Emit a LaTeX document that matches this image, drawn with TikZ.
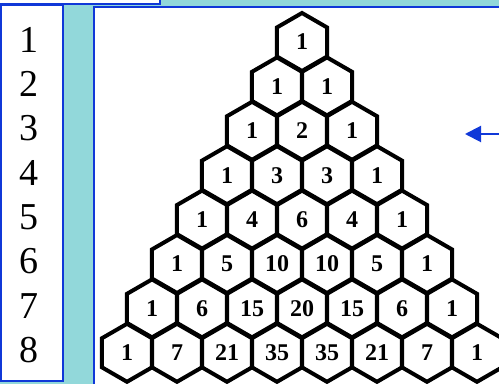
\documentclass[tikz,border=0pt]{standalone}
\usepackage{fontspec}
\setmainfont{Liberation Serif}
\usetikzlibrary{arrows.meta,shapes.geometric}
\definecolor{sidebar}{RGB}{146,216,218}
\definecolor{frameblue}{RGB}{16,56,216}

\begin{document}
\begin{tikzpicture}[
  x=0.5pt, y=-0.5pt,
  panel/.style={draw=frameblue, fill=white, line width=1.2pt},
  hexcell/.style={regular polygon, regular polygon sides=6, shape border rotate=30, draw, line width=2pt, minimum size=29pt, inner sep=0pt, font=\bfseries\fontsize{12}{12}\selectfont},
  rowlabel/.style={font=\fontsize{19}{20}\selectfont, inner sep=0pt},
]
  \clip (0,0) rectangle (499,384);
  \fill[sidebar] (0,0) rectangle (499,384);
  \draw[panel] (-5,-10) rectangle (160,4);
  \draw[panel] (1,5) rectangle (63,381);
  \draw[panel] (94,7) rectangle (505,390);

  % row numbers
  \foreach \r in {1,...,8}
    \node[rowlabel] (label\r) at (29, {40+(\r-1)*44.3}) {\r};

  % triangle of hexagons
  \foreach \vals [count=\r] in {{1},{1,1},{1,2,1},{1,3,3,1},{1,4,6,4,1},{1,5,10,10,5,1},{1,6,15,20,15,6,1},{1,7,21,35,35,21,7,1}}
    \foreach \v [count=\k] in \vals
      \node[hexcell] (hex-\r-\k) at ({302+(\k-(\r+1)/2)*50}, {42+(\r-1)*44.4}) {\v};

  \coordinate (arrowtail) at (499,134);
  \coordinate (arrowtip) at (465,134);
  \draw[-{Triangle[length=8pt,width=8pt]}, frameblue, line width=1pt] (arrowtail) -- (arrowtip);
\end{tikzpicture}
\end{document}
